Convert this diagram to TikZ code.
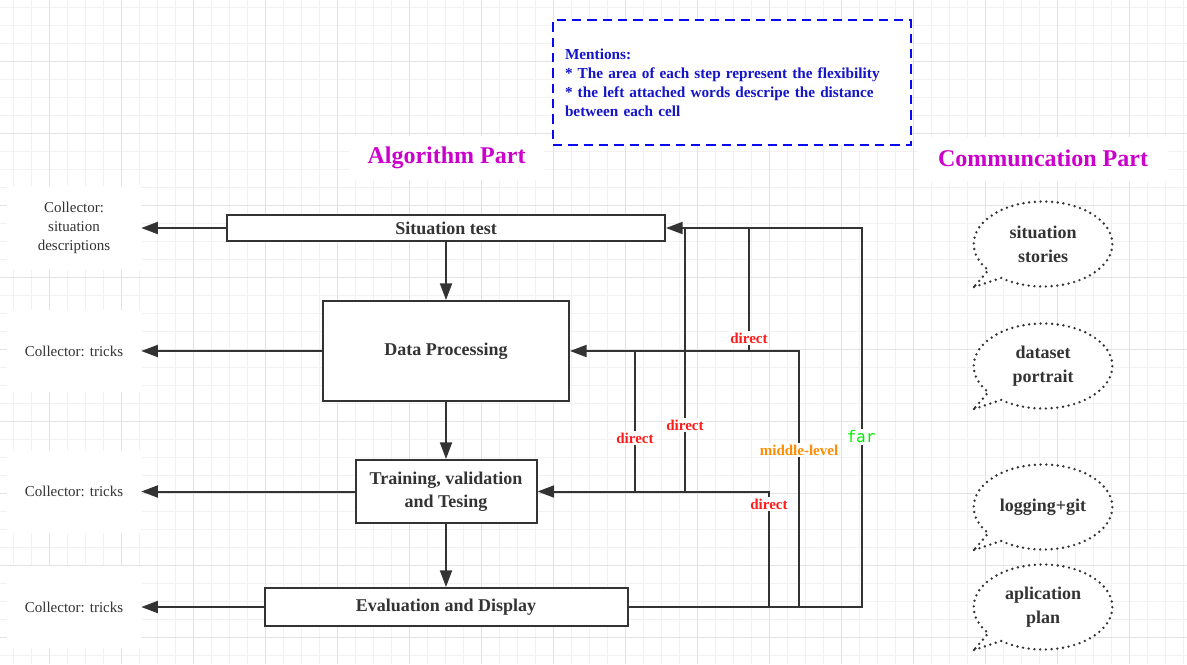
\documentclass[tikz,border=0pt]{standalone}
\usepackage{fontspec}
\setmainfont{Liberation Serif}
\newfontfamily\farfont{DejaVu Sans Mono}
\usepackage{xcolor}
\usetikzlibrary{arrows.meta, positioning, shapes.geometric, shapes.callouts}
\definecolor{ink}{HTML}{333333}
\definecolor{gridmin}{HTML}{F1F1F1}
\definecolor{gridmaj}{HTML}{E2E2E2}
\definecolor{mtext}{HTML}{1414C8}
\definecolor{mline}{HTML}{0A0AF0}
\definecolor{titlemag}{HTML}{CC00CC}
\definecolor{tagred}{HTML}{FF1A1A}
\definecolor{tagorange}{HTML}{FF8C00}
\definecolor{tagfar}{HTML}{00F000}
\tikzset{
    link/.style={ink, line width=1.5pt},
    arrowlink/.style={link, -{Triangle[length=12.5pt, width=9pt]}},
    stage/.style={draw=ink, line width=1.5pt, fill=white, text=ink, inner sep=0pt,
        font=\fontsize{13.5}{17.25}\selectfont\bfseries, align=center},
    collector/.style={fill=white, text=ink, align=center, minimum width=100.5pt,
        minimum height=61.5pt, font=\fontsize{11.25}{14.25}\selectfont},
    parttitle/.style={fill=white, text=titlemag, minimum height=33pt,
        font=\fontsize{18}{20}\selectfont\bfseries},
    tag/.style={fill=white, inner sep=1pt, font=\fontsize{11.25}{13}\selectfont\bfseries},
    mention/.style={draw=mline, line width=1.9pt, dash pattern=on 7pt off 4.5pt, fill=white,
        text=mtext, align=left, text width=250.5pt, inner xsep=9pt, minimum height=93.75pt,
        font=\fontsize{11.45}{14.25}\selectfont\bfseries},
    bubble/.style={ellipse callout, callout absolute pointer={#1}, draw=ink,
        line width=2pt, dash pattern=on 0pt off 4.3pt, line cap=round, fill=white,
        text=ink, align=center, minimum width=104pt, minimum height=63.75pt,
        font=\fontsize{13.5}{18}\selectfont\bfseries},
    gridminor/.style={gridmin, line width=0.75pt},
    gridmajor/.style={gridmaj, line width=0.9pt}
}

\begin{document}
\begin{tikzpicture}[x=0.75pt, y=-0.75pt]
    % paper and grid
    \fill[white] (0,0) rectangle (1187,664);
    \useasboundingbox (0,0) rectangle (1187,664);
    \foreach \gx in {13.7,31.7,...,1187} \draw[gridminor] (\gx,0) -- (\gx,664);
    \foreach \gy in {7.3,25.3,...,664} \draw[gridminor] (0,\gy) -- (1187,\gy);
    \foreach \gx in {49.7,121.7,...,1187} \draw[gridmajor] (\gx,0) -- (\gx,664);
    \foreach \gy in {61.3,133.3,...,664} \draw[gridmajor] (0,\gy) -- (1187,\gy);
    % note box
    \node[mention] (notes) at (732,82.5) {Mentions:\\{*} The area of each step represent the flexibility\\{*} the left attached words descripe the distance\\between each cell};
    % titles
    \node[parttitle, minimum width=146.25pt] (algo) at (446.5,157.5) {Algorithm Part};
    \node[parttitle, minimum width=187.5pt] (comm) at (1043,158.5) {Communcation Part};
    % steps
    \node[stage, minimum width=328.5pt, minimum height=19.5pt] (situ) at (446,228) {Situation test};
    \node[stage, minimum width=184.5pt, minimum height=75pt] (dproc) at (446,351) {Data Processing};
    \node[stage, minimum width=135.75pt, minimum height=47.25pt] (train) at (446,491.5) {Training, validation\\and Tesing};
    \node[stage, minimum width=272.25pt, minimum height=28.5pt] (evald) at (446,607) {Evaluation and Display};
    % collectors
    \node[collector, minimum height=63pt] (colSitu) at (74,228) {Collector:\\situation\\descriptions};
    \node[collector] (colProc) at (74,351) {Collector: tricks};
    \node[collector] (colTrain) at (74,491.5) {Collector: tricks};
    \node[collector] (colEval) at (74,607) {Collector: tricks};
    \draw[arrowlink] (situ) -- (colSitu);
    \draw[arrowlink] (dproc) -- (colProc);
    \draw[arrowlink] (train) -- (colTrain);
    \draw[arrowlink] (evald) -- (colEval);
    % main flow
    \draw[arrowlink] (situ) -- (dproc);
    \draw[arrowlink] (dproc) -- (train);
    \draw[arrowlink] (train) -- (evald);
    % feedback lines
    \coordinate (farT) at (862,228);
    \coordinate (midB) at (799,607);
    \coordinate (evB) at (769,607);
    \coordinate (dirT) at (749,228);
    \coordinate (dirM) at (749,351);
    \coordinate (trT) at (685,228);
    \coordinate (trM) at (685,491.5);
    \coordinate (dpM) at (635,351);
    \coordinate (dpT) at (635,491.5);
    \draw[arrowlink] (evald.east) -| (farT) -- (situ.east);
    \draw[arrowlink] (midB) |- (dproc.east);
    \draw[arrowlink] (evB) |- (train.east);
    \draw[link] (dirM) -- (dirT);
    \draw[link] (trM) -- (trT);
    \draw[link] (dpT) -- (dpM);
    % distance words
    \node[tag, text=tagred] (lbDirSitu) at (749,338) {direct};
    \node[tag, text=tagred] (lbDirTrSitu) at (685,425) {direct};
    \node[tag, text=tagred] (lbDirTrProc) at (635,438) {direct};
    \node[tag, text=tagred] (lbDirEval) at (769,504) {direct};
    \node[tag, text=tagorange] (lbMid) at (799,450) {middle-level};
    \node[tag, text=tagfar, font=\farfont\fontsize{12}{14}\selectfont] (lbFar) at (861,437) {far};
    % communication bubbles
    \node[bubble={(974,287)}] (bStory) at (1043,244) {situation\\stories};
    \node[bubble={(974,409)}] (bData) at (1043,366) {dataset\\portrait};
    \node[bubble={(974,550)}] (bLog) at (1043,507) {logging+git};
    \node[bubble={(974,650)}] (bPlan) at (1043,607) {aplication\\plan};
\end{tikzpicture}
\end{document}
